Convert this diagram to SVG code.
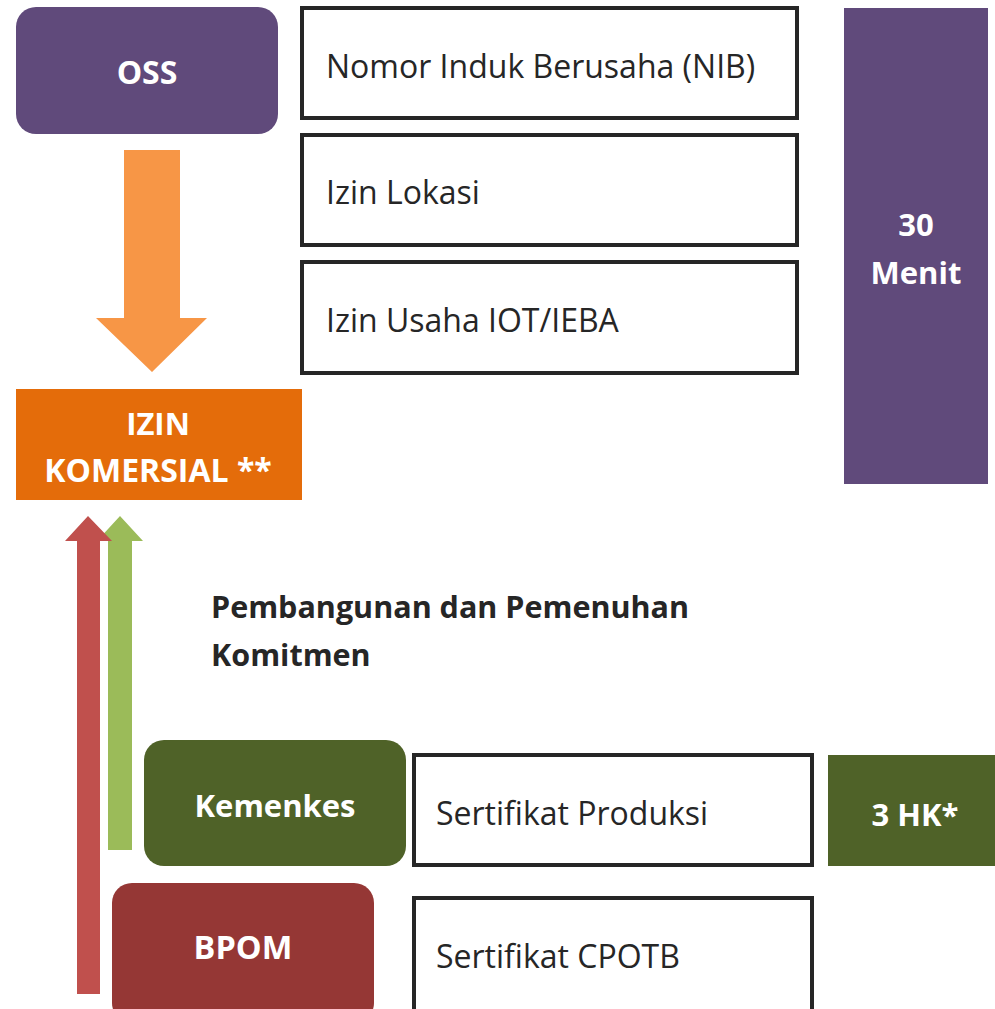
<svg xmlns="http://www.w3.org/2000/svg" width="995" height="1009" viewBox="0 0 995 1009">
<style>
.box{fill:#ffffff;stroke:#262626;stroke-width:4}
.t{font-family:"Open Sans","Liberation Sans",sans-serif;font-size:32px;fill:#262626}
.w{font-family:"Open Sans","Liberation Sans",sans-serif;font-size:31px;font-weight:bold;fill:#ffffff;text-anchor:middle}
.b{font-family:"Open Sans","Liberation Sans",sans-serif;font-size:30.5px;font-weight:bold;fill:#262626}
</style>
<rect width="995" height="1009" fill="#ffffff"/>
<g id="connectors">
<polygon fill="#f79646" points="124,150 180,150 180,318 207,318 152,372 96,318 124,318"/>
<polygon fill="#9bbb59" points="108,850 132,850 132,541 143,541 120,516 97,541 108,541"/>
<polygon fill="#c0504d" points="77,994 100,994 100,541 112,541 88,516 65,541 77,541"/>
</g>
<g id="oss"><rect x="16" y="7" width="262" height="127" rx="20" fill="#604a7b"/><text class="w" x="147" y="84" style="font-size:32px">OSS</text></g>
<g id="nib"><rect class="box" x="302" y="8" width="495" height="110"/><text class="t" x="326" y="78">Nomor Induk Berusaha (NIB)</text></g>
<g id="lokasi"><rect class="box" x="302" y="135" width="495" height="110"/><text class="t" x="326" y="204">Izin Lokasi</text></g>
<g id="usaha"><rect class="box" x="302" y="262" width="495" height="111"/><text class="t" x="326" y="332">Izin Usaha IOT/IEBA</text></g>
<g id="menit"><rect x="844" y="8" width="144" height="476" fill="#604a7b"/><text class="w" x="916" y="236">30</text><text class="w" x="916" y="284">Menit</text></g>
<g id="komersial"><rect x="16" y="389" width="286" height="111" fill="#e46c0a"/><text class="w" x="158" y="435">IZIN</text><text class="w" x="158" y="482" style="font-size:32px">KOMERSIAL **</text></g>
<g id="label"><text class="b" x="211" y="618">Pembangunan dan Pemenuhan</text><text class="b" x="211" y="666">Komitmen</text></g>
<g id="kemenkes"><rect x="144" y="740" width="262" height="126" rx="20" fill="#4f6228"/><text class="w" x="275" y="817">Kemenkes</text></g>
<g id="produksi"><rect class="box" x="414" y="755" width="398" height="110"/><text class="t" x="436" y="825">Sertifikat Produksi</text></g>
<g id="hk"><rect x="828" y="755" width="167" height="111" fill="#4f6228"/><text class="w" x="915" y="826">3 HK*</text></g>
<g id="bpom"><rect x="112" y="883" width="262" height="140" rx="20" fill="#953735"/><text class="w" x="243" y="959" style="font-size:32.5px">BPOM</text></g>
<g id="cpotb"><rect class="box" x="414" y="898" width="398" height="130"/><text class="t" x="436" y="968">Sertifikat CPOTB</text></g>
</svg>
